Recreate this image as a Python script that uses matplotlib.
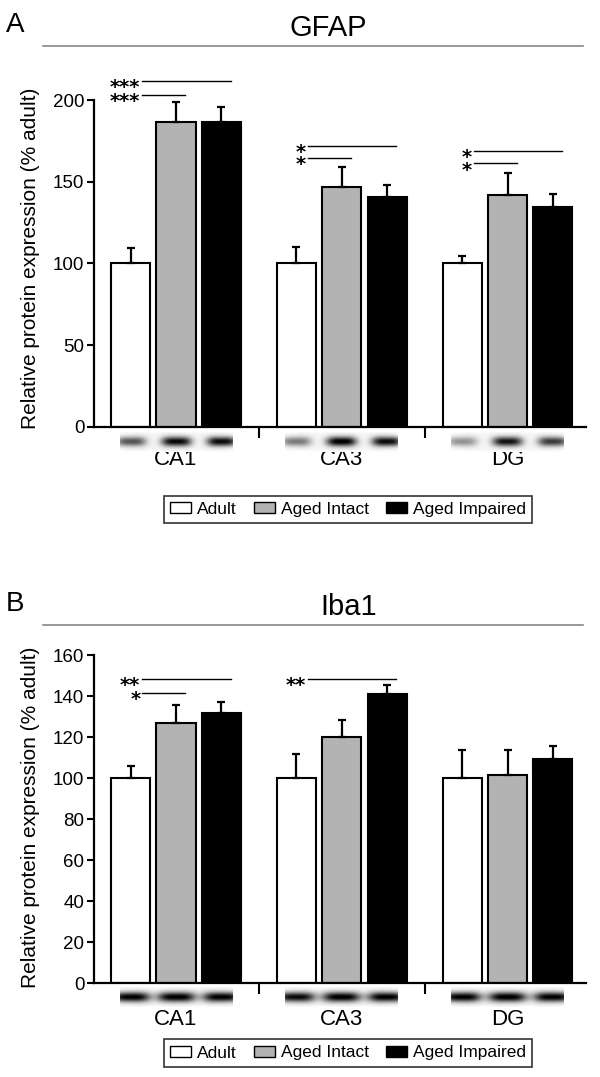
import numpy as np
import matplotlib
matplotlib.use("Agg")
import matplotlib.pyplot as plt
from matplotlib.patches import Patch
from matplotlib.lines import Line2D
from matplotlib.transforms import blended_transform_factory, offset_copy

plt.rcParams['font.family'] = ['Liberation Sans', 'DejaVu Sans']

# data
regions = ['CA1', 'CA3', 'DG']
groups = ['Adult', 'Aged Intact', 'Aged Impaired']
colors = ['white', '#b3b3b3', 'black']

gfap_adult = [100, 100, 100]
gfap_intact = [186.8, 146.6, 142.0]
gfap_impaired = [186.4, 140.6, 134.5]
gfap_adult_sem = [9.5, 10.0, 4.8]
gfap_intact_sem = [12.2, 12.4, 13.4]
gfap_impaired_sem = [9.2, 7.2, 8.3]

iba1_adult = [100, 100, 100]
iba1_intact = [126.7, 120.0, 101.4]
iba1_impaired = [131.6, 141.0, 109.3]
iba1_adult_sem = [5.8, 11.6, 13.5]
iba1_intact_sem = [8.9, 8.2, 12.1]
iba1_impaired_sem = [5.5, 4.4, 6.2]

# significance: (region, stars, compared group, level)
gfap_sig = [(0, '***', 2, 212), (0, '***', 1, 203), (1, '*', 2, 172), (1, '*', 1, 164.3),
            (2, '*', 2, 168.8), (2, '*', 1, 161.2)]
iba1_sig = [(0, '**', 2, 148.3), (0, '*', 1, 141.3), (1, '**', 2, 148.3)]

# western blot band darkness per lane (for the strip under the bars)
gfap_bands = [[0.65, 0.95, 0.95], [0.5, 1.0, 0.95], [0.4, 0.9, 0.75]]
iba1_bands = [[1.0, 1.0, 1.0], [0.95, 1.0, 1.0], [1.0, 1.0, 1.0]]

W, H = 600, 1077
fig = plt.figure(figsize=(W / 100, H / 100), dpi=100)

off = 0.274
bw = 0.236
xlim = (-0.4947, 2.4736)
star_fs = 14


def fx(px):
    return px / W


def fy(py):
    return 1 - py / H


def panel(ax_rect, blot_rect, means, sems, sig, bands, ytop, yticks, ylim,
          letter, title, title_x, line_y, ylab_y, lab_base, leg_y, bw_band, bh_band):
    ax = fig.add_axes(ax_rect)
    for i in range(3):
        x = np.arange(3) + (i - 1) * off
        ax.bar(x, means[i], width=bw, color=colors[i], edgecolor='black',
               linewidth=1.5, zorder=2)
        ax.errorbar(x, means[i], yerr=[np.zeros(3), sems[i]], fmt='none',
                    ecolor='black', elinewidth=1.6, capsize=3, capthick=1.6, zorder=3)
    star_tr = offset_copy(ax.transData, fig=fig, y=-0.62 * star_fs, units='points')
    for g, stars, j, lvl in sig:
        x0 = g - 0.205
        x1 = g + (j - 1) * off + 0.055
        ax.plot([x0, x1], [lvl, lvl], color='black', lw=1.0, clip_on=False)
        ax.text(x0 - 0.01, lvl, stars, ha='right', va='baseline', fontsize=star_fs,
                family='DejaVu Sans', weight='bold', transform=star_tr, clip_on=False)
    ax.set_xlim(*xlim)
    ax.set_ylim(*ylim)
    ax.spines['top'].set_visible(False)
    ax.spines['right'].set_visible(False)
    ax.spines['left'].set_bounds(0, ytop)
    ax.spines['left'].set_linewidth(1.6)
    ax.spines['bottom'].set_linewidth(1.6)
    ax.set_yticks(yticks)
    ax.set_xticks([0.5, 1.5])
    ax.set_xticklabels([])
    ax.tick_params(axis='y', direction='out', length=5, width=1.5, labelsize=13.5, pad=2)
    ax.tick_params(axis='x', direction='out', length=8, width=1.5)
    ax.patch.set_alpha(0)

    # blot strip
    bax = fig.add_axes(blot_rect)
    bax.set_xlim(*xlim)
    bax.set_ylim(0, 1)
    bax.axis('off')
    xs = np.linspace(-0.34, 0.34, 240)
    ys = np.linspace(0, 1, 40)
    X, Y = np.meshgrid(xs, ys)
    for g in range(3):
        img = 0.04 * np.exp(-(X / 0.31) ** 8) * np.exp(-((Y - 0.5) / 0.45) ** 8)
        for i in range(3):
            xc = (i - 1) * off
            img = img + bands[g][i] * np.exp(-np.abs((X - xc) / bw_band) ** 3.5) \
                * np.exp(-((Y - 0.5) / bh_band) ** 2)
        bax.imshow(np.clip(img, 0, 1), cmap='gray_r', vmin=0, vmax=1, aspect='auto',
                   extent=[g - 0.34, g + 0.34, 0, 1], interpolation='bilinear')

    tr = blended_transform_factory(ax.transData, fig.transFigure)
    for g, r in enumerate(regions):
        ax.text(g, fy(lab_base), r, transform=tr, ha='center', va='baseline', fontsize=16)

    fig.text(fx(31), fy(ylab_y), 'Relative protein expression (% adult)', rotation=90,
             ha='center', va='center', fontsize=15)
    fig.text(fx(6), fy(line_y - 21), letter, ha='left', va='center', fontsize=20)
    fig.text(fx(title_x), fy(line_y - 18), title, ha='center', va='center', fontsize=21)
    fig.add_artist(Line2D([fx(43), fx(583)], [fy(line_y), fy(line_y)], color='#8a8580',
                          lw=1.2))

    handles = [Patch(facecolor=c, edgecolor='black', linewidth=1.0) for c in colors]
    leg = fig.legend(handles, groups, loc='center', bbox_to_anchor=(fx(348), fy(leg_y)),
                     ncol=3, frameon=True, fancybox=False, edgecolor='black', fontsize=12.5,
                     handlelength=1.2, handleheight=0.6, handletextpad=0.35,
                     columnspacing=1.0, borderpad=0.35, borderaxespad=0)
    leg.get_frame().set_linewidth(1.2)
    return ax


# panel A geometry: 0 at y=426.7 px, 1.633 px per unit
a0, asc = 426.7, 1.633
a_top = a0 - 220 * asc
panel([fx(94), fy(a0), fx(492), (a0 - a_top) / H],
      [fx(94), fy(452), fx(492), 20 / H],
      [gfap_adult, gfap_intact, gfap_impaired],
      [gfap_adult_sem, gfap_intact_sem, gfap_impaired_sem],
      gfap_sig, gfap_bands, 200, [0, 50, 100, 150, 200], (0, 220),
      'A', 'GFAP', 328, 46, 258, 465, 509.5, 0.09, 0.23)

# panel B geometry: 0 at y=983.3 px, 160 at y=655
b0, btop = 983.3, 655
panel([fx(94), fy(b0), fx(492), (b0 - btop) / H],
      [fx(94), fy(1007), fx(492), 20 / H],
      [iba1_adult, iba1_intact, iba1_impaired],
      [iba1_adult_sem, iba1_intact_sem, iba1_impaired_sem],
      iba1_sig, iba1_bands, 160, [0, 20, 40, 60, 80, 100, 120, 140, 160], (0, 160),
      'B', 'Iba1', 349, 625, 817, 1025, 1053, 0.115, 0.25)

fig.savefig('out.png', dpi=100)
